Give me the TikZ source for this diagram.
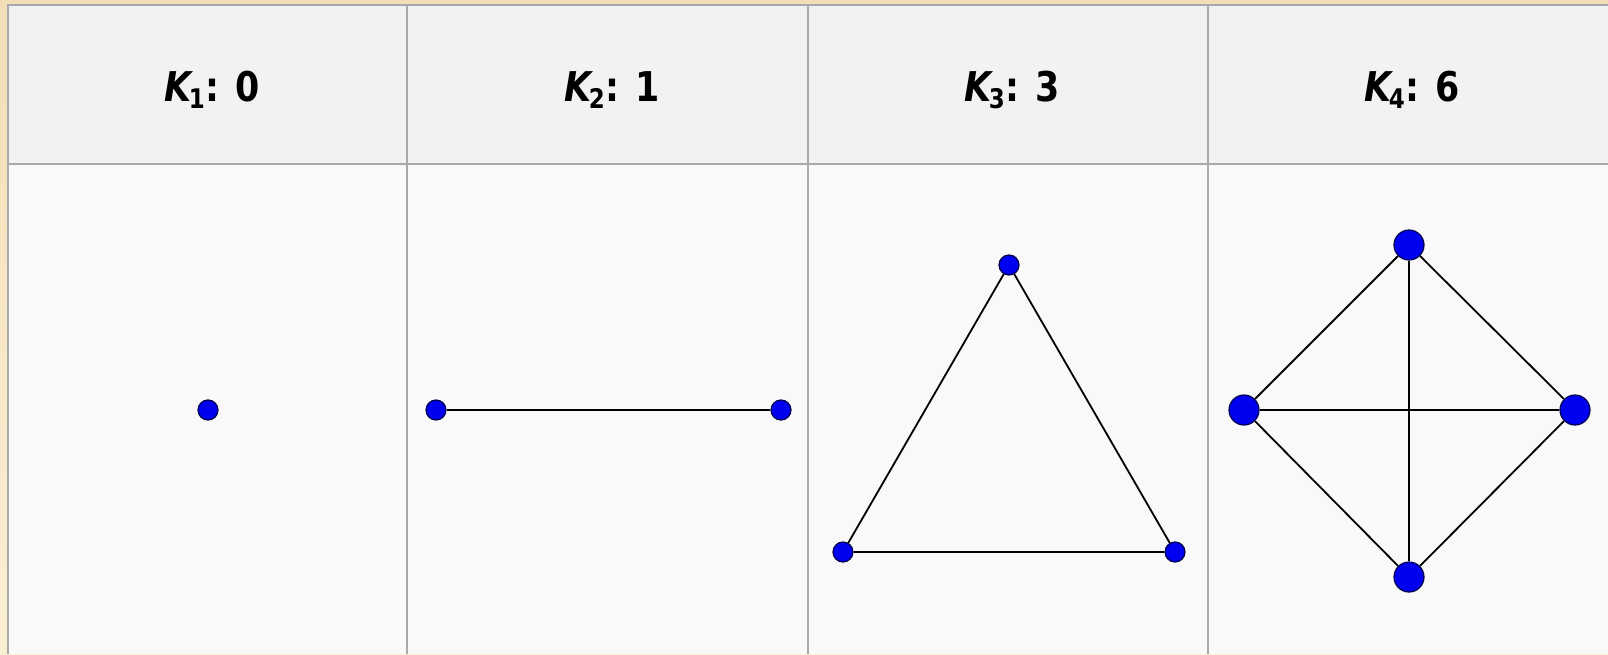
\documentclass[tikz,border=0pt]{standalone}
\usepackage{fontspec}
\setmainfont{DejaVu Sans}
\newfontfamily\headfont[FakeStretch=0.85]{DejaVu Sans}
\definecolor{beige}{HTML}{F2DFB8}
\definecolor{beigelight}{HTML}{FBEFD3}
\definecolor{headfill}{HTML}{F2F2F2}
\definecolor{bodyfill}{HTML}{F9F9F9}
\definecolor{rule}{HTML}{A9A9A9}
\definecolor{vblue}{HTML}{0000F0}
\newcommand{\kname}[1]{{\itshape K}\kern-0.06em\raisebox{-3.3pt}{\fontsize{13.5}{15}\selectfont #1}\kern0.01em}
\tikzset{
  px/.style={x=0.5pt,y=-0.5pt},
  head/.style={font=\headfont\fontsize{20.5}{24}\selectfont\bfseries, inner sep=0pt, anchor=base},
  vtx/.style={circle, fill=vblue, draw=black!70!blue, line width=0.6pt, inner sep=0pt, minimum size=#1},
  vtx/.default=10pt,
  edge/.style={draw=black, line width=0.9pt},
  cellrule/.style={draw=rule, line width=1.2pt}
}
\begin{document}
\begin{tikzpicture}[px]
\useasboundingbox (0,0) rectangle (1608,654);
% background
\shade[top color=beige, bottom color=beigelight] (0,0) rectangle (1608,654);
% cells
\fill[headfill] (8,5) rectangle (1608,164);
\fill[bodyfill] (8,164) rectangle (1608,654);
\draw[cellrule] (1608,5) -- (8,5) -- (8,654);
\draw[cellrule] (8,164) -- (1608,164);
\foreach \x in {407,808,1208} \draw[cellrule] (\x,5) -- (\x,654);
% headers
\node[head] (h1) at (212,101.5) {\kname{1}: 0};
\node[head] (h2) at (612,101.5) {\kname{2}: 1};
\node[head] (h3) at (1012,101.5) {\kname{3}: 3};
\node[head] (h4) at (1412,101.5) {\kname{4}: 6};
% K1
\node[vtx] (a1) at (208,410) {};
% K2
\node[vtx] (b1) at (436,410) {};
\node[vtx] (b2) at (781,410) {};
\draw[edge] (b1) -- (b2);
% K3
\node[vtx] (c1) at (1009,265) {};
\node[vtx] (c2) at (843,552) {};
\node[vtx] (c3) at (1175,552) {};
\draw[edge] (c1) -- (c2) -- (c3) -- (c1);
% K4
\node[vtx=15pt] (d1) at (1409,245) {};
\node[vtx=15pt] (d2) at (1244,410) {};
\node[vtx=15pt] (d3) at (1575,410) {};
\node[vtx=15pt] (d4) at (1409,577) {};
\draw[edge] (d1) -- (d2) -- (d4) -- (d3) -- (d1);
\draw[edge] (d1) -- (d4);
\draw[edge] (d2) -- (d3);
\end{tikzpicture}
\end{document}
